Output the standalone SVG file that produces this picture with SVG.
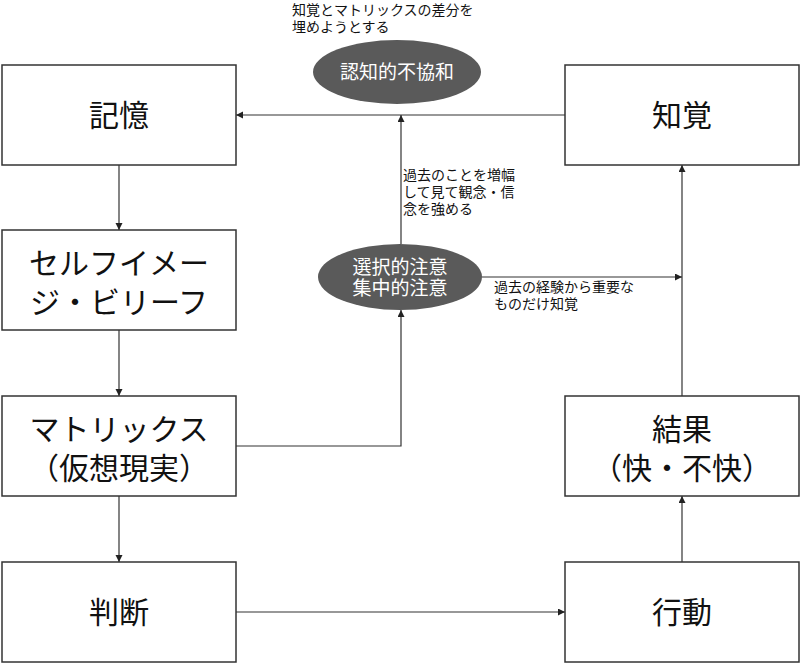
<svg xmlns="http://www.w3.org/2000/svg" width="800" height="663" viewBox="0 0 800 663">
<style>
.box{fill:#fff;stroke:#333;stroke-width:1.5}
.t{font-family:"Noto Sans CJK JP","Liberation Sans",sans-serif;fill:#111;text-anchor:middle}
.big{font-size:30px}
.s{font-family:"Noto Sans CJK JP","Liberation Sans",sans-serif;font-size:14px;fill:#111}
.el{fill:#5a5a5a}
.et{font-family:"Noto Sans CJK JP","Liberation Sans",sans-serif;fill:#fff;text-anchor:middle;font-size:19px}
.c{stroke:#333;stroke-width:1.2;fill:none;marker-end:url(#a)}
</style>
<defs><marker id="a" markerWidth="8" markerHeight="8" refX="7" refY="3.5" orient="auto" markerUnits="userSpaceOnUse"><path d="M0,0 L7,3.5 L0,7 z" fill="#222"/></marker></defs>
<rect width="800" height="663" fill="#fff"/>
<g id="connectors">
<path class="c" d="M565,115 H236"/>
<path class="c" d="M119,165 V230"/>
<path class="c" d="M119,330 V396"/>
<path class="c" d="M119,496 V562"/>
<path class="c" d="M236,612 H565"/>
<path class="c" d="M682,562 V496"/>
<path class="c" d="M682,396 V165"/>
<path class="c" d="M236,446 H401 V310"/>
<path class="c" d="M401,244 V115"/>
<path class="c" d="M482,277 H682"/>
</g>
<g id="memory"><rect class="box" x="2" y="65" width="234" height="100"/><text class="t big" x="119" y="126">記憶</text></g>
<g id="perception"><rect class="box" x="565" y="65" width="234" height="100"/><text class="t big" x="682" y="126">知覚</text></g>
<g id="selfimage"><rect class="box" x="2" y="230" width="234" height="100"/><text class="t big" x="119" y="274">セルフイメー</text><text class="t big" x="119" y="313">ジ・ビリーフ</text></g>
<g id="matrix"><rect class="box" x="2" y="396" width="234" height="100"/><text class="t big" x="119" y="440">マトリックス</text><text class="t big" x="119" y="479">（仮想現実）</text></g>
<g id="judgment"><rect class="box" x="2" y="562" width="234" height="100"/><text class="t big" x="119" y="623">判断</text></g>
<g id="result"><rect class="box" x="565" y="396" width="234" height="100"/><text class="t big" x="682" y="440">結果</text><text class="t big" x="682" y="479">（快・不快）</text></g>
<g id="action"><rect class="box" x="565" y="562" width="234" height="100"/><text class="t big" x="682" y="623">行動</text></g>
<g id="dissonance"><ellipse class="el" cx="397" cy="72" rx="84" ry="32"/><text class="et" x="397" y="79">認知的不協和</text></g>
<g id="attention"><ellipse class="el" cx="400" cy="277" rx="82" ry="33"/><text class="et" x="400" y="274">選択的注意</text><text class="et" x="400" y="295">集中的注意</text></g>
<g id="labels">
<text class="s" x="292" y="15">知覚とマトリックスの差分を</text>
<text class="s" x="292" y="32">埋めようとする</text>
<text class="s" x="403" y="180">過去のことを増幅</text>
<text class="s" x="403" y="197">して見て観念・信</text>
<text class="s" x="403" y="214">念を強める</text>
<text class="s" x="494" y="292">過去の経験から重要な</text>
<text class="s" x="494" y="309">ものだけ知覚</text>
</g>
</svg>
